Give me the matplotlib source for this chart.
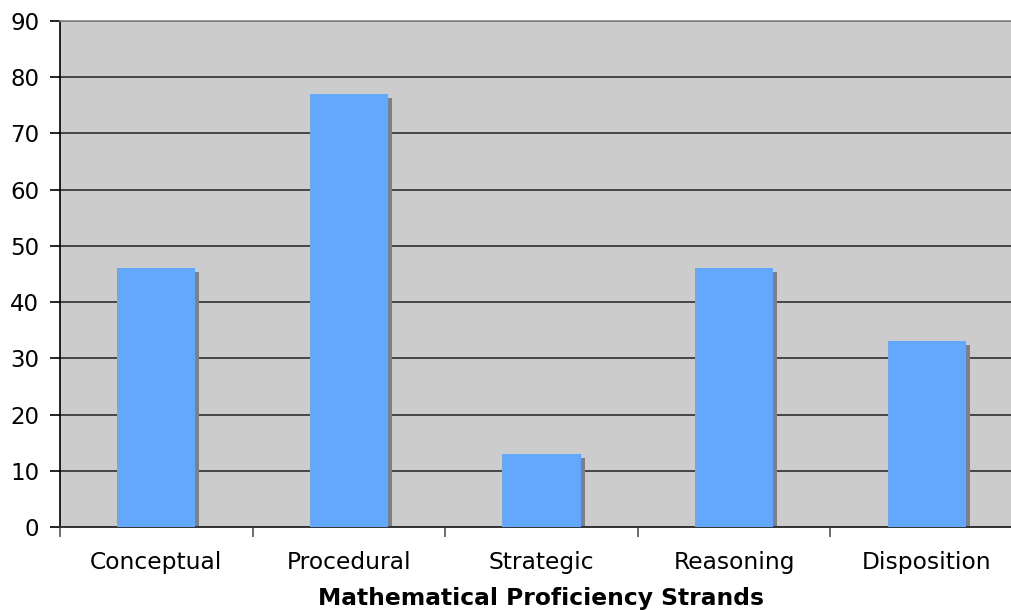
import matplotlib
matplotlib.use("Agg")
import matplotlib.pyplot as plt
import numpy as np

categories = ["Conceptual", "Procedural", "Strategic", "Reasoning", "Disposition"]
values = [46, 77, 13, 46, 33]
yticks = [0, 10, 20, 30, 40, 50, 60, 70, 80, 90]
xlabel = "Mathematical Proficiency Strands"

plt.rcParams['font.family'] = ['DejaVu Sans']

fig = plt.figure(figsize=(10.11, 6.10), dpi=100)
W, H = 1011, 610
left, right, top, bottom = 60, 1023, 21, 527
ax = fig.add_axes([left / W, 1 - bottom / H, (right - left) / W, (bottom - top) / H])

ax.set_facecolor("#CCCCCC")
x = np.arange(len(categories))
bw = 0.405
px_per_cat = (right - left) / len(categories)
px_per_unit = (bottom - top) / 90
dx = 4 / px_per_cat
dy = 4 / px_per_unit

vals = np.array(values, dtype=float)
ax.bar(x + dx, vals - dy, width=bw, color="#808080", zorder=2)
ax.bar(x, vals, width=bw, color="#62A8FF", zorder=3)

ax.set_xlim(-0.5, len(categories) - 0.5)
ax.set_ylim(0, 90)
ax.set_yticks(yticks)
ax.yaxis.grid(True, color="#3a3a3a", linewidth=1.3, zorder=1)
ax.set_axisbelow(True)

ax.set_xticks(np.arange(len(categories) + 1) - 0.5)
ax.set_xticklabels([])
ax.set_xticks(x, minor=True)
ax.set_xticklabels(categories, minor=True)
ax.tick_params(axis="x", which="minor", length=0, pad=17, labelsize=16.8)
ax.tick_params(axis="x", which="major", length=7, width=1.2, color="#555555")
ax.tick_params(axis="y", length=7, width=1.2, labelsize=16.5, pad=8)

ax.spines["right"].set_visible(False)
ax.spines["top"].set_color("#888888")
ax.spines["top"].set_linewidth(1.2)
ax.spines["left"].set_color("black")
ax.spines["left"].set_linewidth(1.2)
ax.spines["bottom"].set_color("#333333")
ax.spines["bottom"].set_linewidth(1.4)

ax.set_xlabel(xlabel, fontsize=16.8, fontweight="bold", labelpad=9.5)

fig.savefig("out.png", dpi=100, facecolor="white")
